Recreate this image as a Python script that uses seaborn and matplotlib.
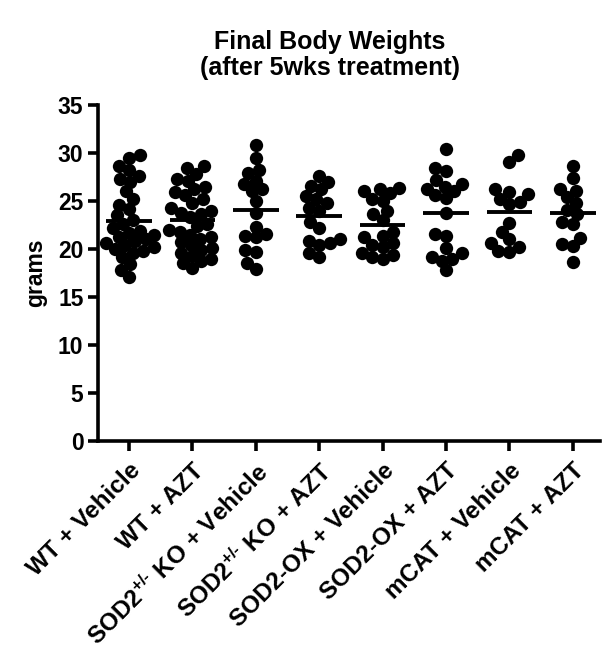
import numpy as np
import pandas as pd
import matplotlib
matplotlib.use("Agg")
import matplotlib.pyplot as plt
from matplotlib.collections import PathCollection
import seaborn as sns

# group labels (x axis)
groups = [
    "WT + Vehicle",
    "WT + AZT",
    "SOD2$^{+/\u2010}$ KO + Vehicle",
    "SOD2$^{+/\u2010}$ KO + AZT",
    "SOD2-OX + Vehicle",
    "SOD2-OX + AZT",
    "mCAT + Vehicle",
    "mCAT + AZT",
]

# body weights in grams
wt_vehicle = [29.8, 29.5, 28.6, 28.2, 27.6, 27.3, 27.0, 26.0, 25.2, 24.6, 24.2,
              23.5, 23.0, 22.6, 22.2, 21.9, 21.7, 21.5, 21.3, 21.0, 20.8, 20.6,
              20.4, 20.2, 20.0, 19.8, 19.6, 19.2, 18.4, 17.8, 17.1]
wt_azt = [28.6, 28.4, 27.8, 27.3, 27.1, 26.5, 26.2, 25.9, 25.6, 25.2, 24.8, 24.3,
          24.0, 23.8, 23.6, 23.3, 22.6, 22.4, 22.0, 21.8, 21.5, 21.2, 21.0, 20.7,
          20.4, 20.1, 19.9, 19.6, 19.3, 19.0, 18.7, 18.5, 18.0]
sod2ko_vehicle = [30.8, 29.5, 28.2, 27.9, 27.1, 26.8, 26.2, 26.0, 25.0, 23.8,
                  22.3, 21.6, 21.4, 21.2, 19.7, 19.9, 18.5, 17.9]
sod2ko_azt = [27.6, 27.0, 26.6, 26.2, 25.5, 25.2, 24.8, 24.3, 24.0, 22.8, 22.2,
              21.0, 20.6, 20.8, 20.4, 19.6, 19.2]
sod2ox_vehicle = [26.4, 26.3, 26.0, 25.8, 25.2, 25.0, 24.0, 23.6, 23.0, 21.8,
                  21.4, 21.2, 20.6, 20.4, 20.2, 19.6, 19.4, 19.2, 19.0]
sod2ox_azt = [30.4, 28.4, 28.1, 27.2, 26.8, 26.5, 26.3, 26.0, 25.6, 25.3, 23.8,
              21.6, 21.4, 20.1, 19.6, 19.2, 19.0, 18.8, 17.8]
mcat_vehicle = [29.8, 29.1, 26.2, 25.9, 25.7, 25.2, 24.9, 24.7, 22.7, 21.8, 21.0,
                20.6, 20.2, 19.8, 19.7]
mcat_azt = [28.6, 27.4, 26.3, 26.0, 25.4, 24.8, 24.1, 23.6, 22.8, 22.6, 21.1,
            20.5, 20.3, 18.6]

yticks = [0, 5, 10, 15, 20, 25, 30, 35]

values = [wt_vehicle, wt_azt, sod2ko_vehicle, sod2ko_azt,
          sod2ox_vehicle, sod2ox_azt, mcat_vehicle, mcat_azt]
df = pd.DataFrame({
    "group": np.repeat(groups, [len(v) for v in values]),
    "grams": np.concatenate(values),
})

sns.set_style("ticks")
plt.rcParams["font.family"] = ["Liberation Sans", "DejaVu Sans"]
plt.rcParams["font.weight"] = "bold"
plt.rcParams["mathtext.fontset"] = "custom"
plt.rcParams["mathtext.rm"] = "Liberation Sans:bold"
plt.rcParams["mathtext.it"] = "Liberation Sans:bold"
plt.rcParams["mathtext.bf"] = "Liberation Sans:bold"
plt.rcParams["mathtext.default"] = "rm"
for key in ["text.color", "axes.labelcolor", "xtick.color", "ytick.color",
            "axes.edgecolor"]:
    plt.rcParams[key] = "black"

fig = plt.figure(figsize=(6.04, 6.5), dpi=100)
ax = fig.add_axes([98 / 604, 209 / 650, 502 / 604, 336 / 650])
ax.set_xlim(-0.49, 7.43)
ax.set_ylim(0, 35)

# lay out the swarm with smaller markers, then freeze the layout and draw
# the markers bigger so they overlap the way the original scatter does
sns.swarmplot(data=df, x="group", y="grams", order=groups, color="black",
              size=7.5, ax=ax, warn_thresh=1.0)
ax.set_xlim(-0.49, 7.43)
ax.set_ylim(0, 35)
fig.canvas.draw()
for coll in ax.collections:
    coll.draw = PathCollection.draw.__get__(coll)
    coll.set_sizes([9.6 ** 2])

# mean lines
means = df.groupby("group", sort=False)["grams"].mean().reindex(groups)
ax.hlines(means.values, np.arange(len(groups)) - 0.36,
          np.arange(len(groups)) + 0.36, color="black", lw=2.8, zorder=5)

ax.set_yticks(yticks)
ax.set_yticklabels([str(t) for t in yticks], fontsize=16.5, fontweight="bold")
ax.set_xticks(range(len(groups)))
ax.set_xticklabels(groups, rotation=45, ha="right", rotation_mode="anchor",
                   fontsize=17.5, fontweight="bold")
ax.set_xlabel("")
ax.set_ylabel("grams", fontsize=16.5, fontweight="bold", labelpad=8)

sns.despine(ax=ax)
for side in ["left", "bottom"]:
    ax.spines[side].set_linewidth(2.6)
ax.tick_params(axis="both", width=2.6, length=7, direction="out", color="black")
ax.tick_params(axis="x", pad=6)

fig.text(330 / 604, 1 - 42 / 650, "Final Body Weights", ha="center",
         va="center", fontsize=18, fontweight="bold")
fig.text(330 / 604, 1 - 68 / 650, "(after 5wks treatment)", ha="center",
         va="center", fontsize=18, fontweight="bold")

fig.savefig("out.png", dpi=100)
